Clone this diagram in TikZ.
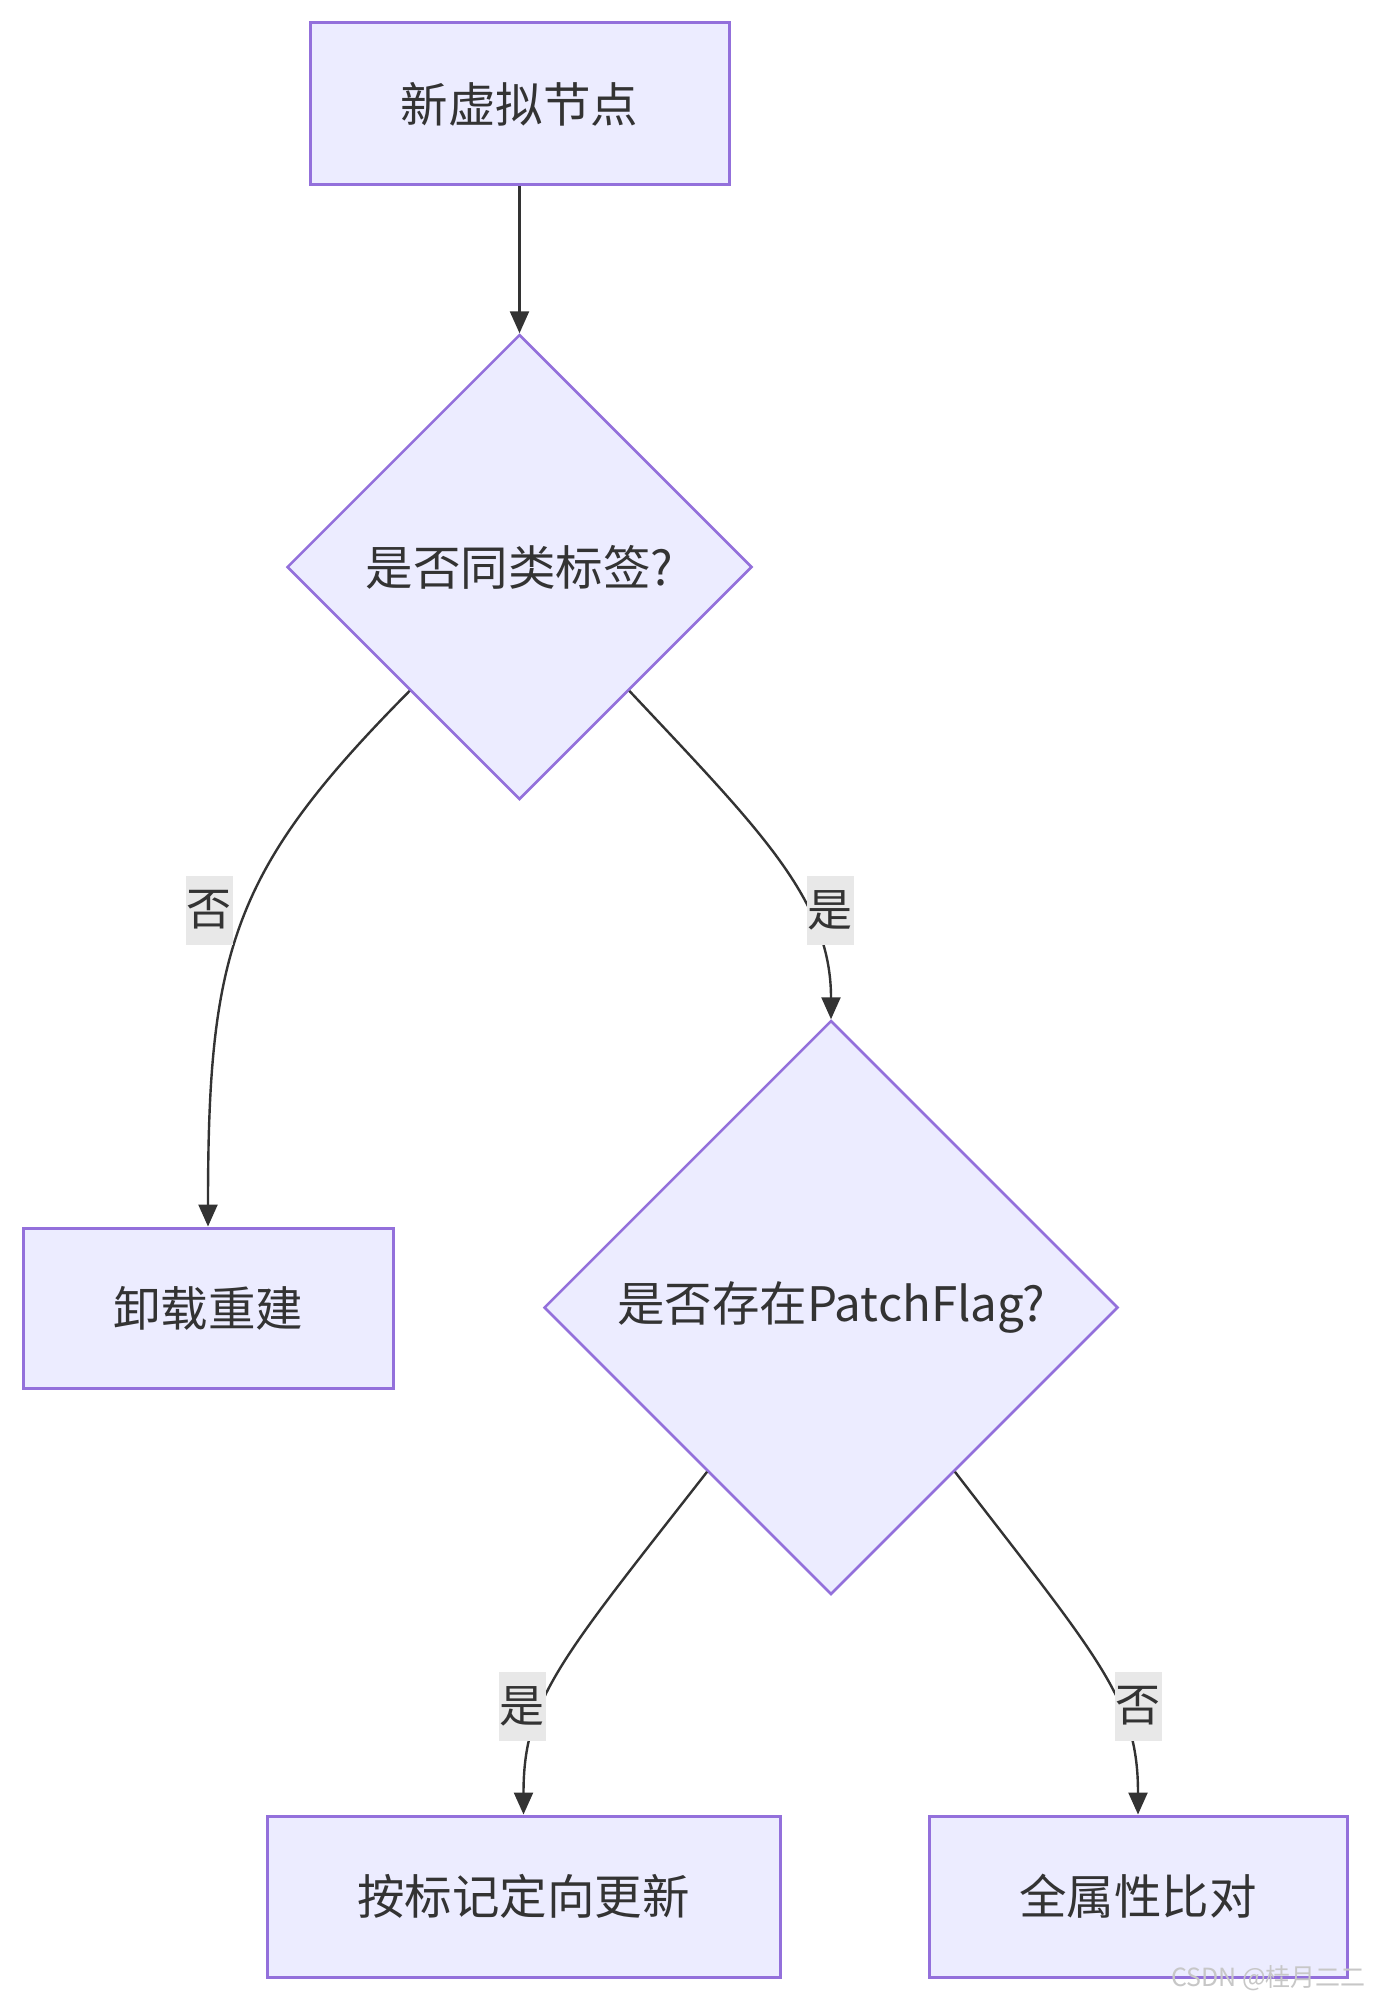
\documentclass[tikz,border=0pt]{standalone}
\usepackage{fontspec}
\setmainfont{Noto Sans CJK SC}
\usetikzlibrary{shapes.geometric,arrows.meta,calc}
\definecolor{nodefill}{HTML}{ECECFF}
\definecolor{nodeline}{HTML}{9370DB}
\definecolor{edgecol}{HTML}{333333}
\definecolor{lblbg}{HTML}{E8E8E8}
\begin{document}
\begin{tikzpicture}[x=1pt,y=-1pt,
  txt/.style={text=edgecol,font=\fontsize{47.5}{56}\selectfont},
  boxnode/.style={draw=nodeline,fill=nodefill,line width=3pt,inner sep=0pt,txt},
  dia/.style={diamond,draw=nodeline,fill=nodefill,line width=2.5pt,inner sep=0pt,aspect=1},
  edge/.style={draw=edgecol,line width=2.4pt,-{Triangle[length=22pt,width=19pt]}},
  elabel/.style={fill=lblbg,inner sep=0pt,minimum width=47pt,minimum height=69pt,text=edgecol,font=\fontsize{45}{50}\selectfont}
]
\useasboundingbox (0,0) rectangle (1378,2012);
\fill[white] (0,0) rectangle (1378,2012);

\node[boxnode,minimum width=419pt,minimum height=162pt] (b1) at (519.5,104) {新虚拟节点};
\node[dia,minimum width=465pt,minimum height=465pt,label={[txt]center:是否同类标签?}] (d1) at (519.5,567) {};
\node[boxnode,minimum width=370pt,minimum height=160pt] (b2) at (208,1308) {卸载重建};
\node[dia,minimum width=574pt,minimum height=574pt,label={[txt]center:是否存在PatchFlag?}] (d2) at (831,1307.5) {};
\node[boxnode,minimum width=513pt,minimum height=161pt] (b4) at (523.5,1896.5) {按标记定向更新};
\node[boxnode,minimum width=418pt,minimum height=161pt] (b5) at (1138,1896.5) {全属性比对};

\coordinate (s1) at ($(d1.south west)!0.06!(d1.south)$);
\coordinate (s2) at ($(d1.south east)!0.06!(d1.south)$);
\coordinate (s3) at ($(d2.south west)!0.14!(d2.south)$);
\coordinate (s4) at ($(d2.south east)!0.14!(d2.south)$);

\draw[edge] (b1.south) -- (d1.north);
\draw[edge] (s1) .. controls (232,870) and (208,950) .. (b2.north);
\draw[edge] (s2) .. controls (760,830) and (831,900) .. (d2.north);
\draw[edge] (s3) .. controls (560,1660) and (523.5,1700) .. (b4.north);
\draw[edge] (s4) .. controls (1100,1660) and (1138,1700) .. (b5.north);

\node[elabel] (l1) at (209,910) {否};
\node[elabel] (l2) at (830,910) {是};
\node[elabel] (l3) at (522,1706) {是};
\node[elabel] (l4) at (1138,1706) {否};

\node[text=black!22,font=\fontsize{25}{28}\selectfont,anchor=east,inner sep=0pt] (wm) at (1366,1978) {CSDN @桂月二二};
\end{tikzpicture}
\end{document}
